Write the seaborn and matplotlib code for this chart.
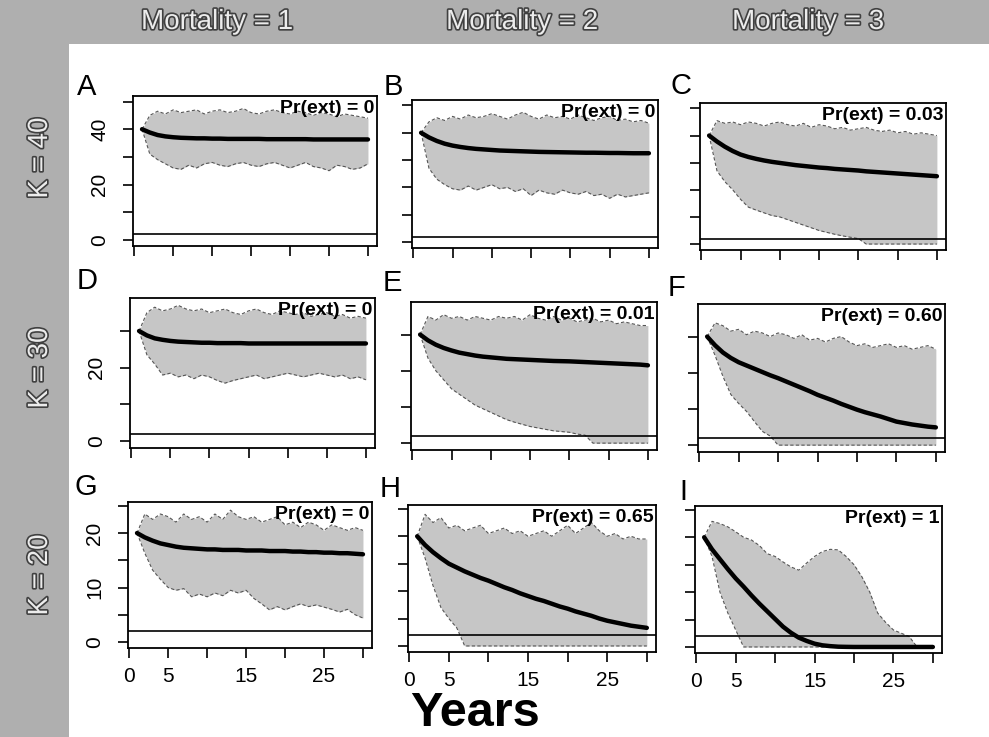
import matplotlib
matplotlib.use("Agg")
import matplotlib.pyplot as plt
import seaborn as sns
import pandas as pd
from matplotlib.patches import Rectangle
from matplotlib import patheffects as pe

# ---------------- data ----------------
years = list(range(1, 31))
mortality_labels = ["Mortality = 1", "Mortality = 2", "Mortality = 3"]
k_labels = ["K = 40", "K = 30", "K = 20"]
panel_letters = ["A", "B", "C", "D", "E", "F", "G", "H", "I"]
pr_ext = ["0", "0", "0.03", "0", "0.01", "0.60", "0", "0.65", "1"]
threshold = 2
x_ticks = [0, 5, 10, 15, 20, 25, 30]
x_tick_labels = ["0", "5", "", "15", "", "25", ""]
row_y_ticks = [[0, 10, 20, 30, 40, 50], [0, 10, 20, 30], [0, 5, 10, 15, 20, 25]]
row_y_labels = [["0", "", "20", "", "40", ""], ["0", "", "20", ""], ["0", "", "10", "", "20", ""]]

# mean trajectories
mean_A = [40, 38.8, 37.9, 37.4, 37.1, 36.9, 36.8, 36.7, 36.7, 36.6, 36.6, 36.5, 36.5, 36.5, 36.5,
          36.5, 36.4, 36.4, 36.4, 36.4, 36.4, 36.4, 36.3, 36.3, 36.3, 36.3, 36.3, 36.3, 36.3, 36.3]
mean_B = [40, 38.3, 37.0, 36.0, 35.3, 34.8, 34.4, 34.1, 33.9, 33.7, 33.5, 33.4, 33.3, 33.2, 33.1,
          33.0, 32.95, 32.9, 32.85, 32.8, 32.75, 32.7, 32.7, 32.65, 32.6, 32.6, 32.55, 32.5, 32.5, 32.5]
mean_C = [40, 37.8, 35.9, 34.3, 33.0, 32.1, 31.4, 30.8, 30.3, 29.9, 29.5, 29.1, 28.8, 28.5, 28.2,
          28.0, 27.7, 27.5, 27.3, 27.1, 26.8, 26.6, 26.4, 26.2, 26.0, 25.8, 25.6, 25.4, 25.2, 25.0]
mean_D = [30, 28.8, 28.0, 27.6, 27.3, 27.1, 27.0, 26.9, 26.8, 26.8, 26.7, 26.7, 26.7, 26.7, 26.6,
          26.6, 26.6, 26.6, 26.6, 26.6, 26.6, 26.6, 26.6, 26.6, 26.6, 26.6, 26.6, 26.6, 26.6, 26.6]
mean_E = [30, 28.4, 27.2, 26.3, 25.6, 25.0, 24.6, 24.2, 23.9, 23.7, 23.5, 23.3, 23.2, 23.1, 23.0,
          22.9, 22.8, 22.7, 22.65, 22.6, 22.5, 22.4, 22.3, 22.2, 22.1, 22.0, 21.9, 21.8, 21.7, 21.5]
mean_F = [30, 27.6, 25.6, 24.1, 22.9, 22.0, 21.1, 20.2, 19.3, 18.5, 17.6, 16.7, 15.8, 14.9, 13.9,
          13.1, 12.3, 11.4, 10.6, 9.8, 9.1, 8.5, 7.9, 7.2, 6.5, 6.1, 5.7, 5.4, 5.1, 4.9]
mean_G = [20, 19.2, 18.6, 18.1, 17.8, 17.5, 17.3, 17.2, 17.1, 17.0, 17.0, 16.9, 16.9, 16.9, 16.8,
          16.8, 16.8, 16.7, 16.7, 16.7, 16.6, 16.6, 16.5, 16.5, 16.4, 16.4, 16.3, 16.3, 16.2, 16.1]
mean_H = [20, 18.4, 17.1, 16.0, 15.0, 14.3, 13.6, 13.0, 12.4, 11.9, 11.3, 10.7, 10.2, 9.6, 9.1,
          8.6, 8.2, 7.7, 7.2, 6.8, 6.3, 5.9, 5.5, 5.0, 4.6, 4.3, 4.0, 3.7, 3.5, 3.3]
mean_I = [20, 17.8, 16.0, 14.2, 12.5, 11.0, 9.4, 7.9, 6.5, 5.1, 3.7, 2.6, 1.7, 1.1, 0.6,
          0.3, 0.15, 0.05, 0.02, 0, 0, 0, 0, 0, 0, 0, 0, 0, 0, 0]

# upper envelope of simulated trajectories
upper_A = [40, 45, 46.5, 45.5, 47, 46, 46.5, 47, 45.5, 46.5, 47, 46, 46.5, 47.5, 46,
           45.5, 46.5, 47, 46, 45.5, 46.5, 46, 45, 46, 45.5, 44.5, 45.5, 45, 44.5, 44]
upper_B = [40, 44, 45.5, 44.5, 46, 45, 46.5, 45.5, 46, 47, 46, 45, 46.5, 47.5, 46,
           45, 46.5, 45.5, 46, 45, 46.5, 45.5, 44.5, 45.5, 46, 44.5, 45, 44, 44.5, 43.5]
upper_C = [40, 45.5, 44.5, 45, 44, 45, 44.5, 43.5, 44.5, 45, 44, 43.5, 44.5, 43, 44,
           43.5, 42.5, 43, 42, 42.5, 43, 42, 41.5, 42, 41, 41.5, 40.5, 41, 40.5, 40]
upper_D = [30, 35, 36.5, 35.5, 36, 37, 36, 35.5, 36, 35, 35.5, 36, 35, 34.5, 35.5,
           36, 35, 34.5, 35.5, 35, 34.5, 35, 34, 34.5, 35, 34, 34.5, 33.5, 34, 33.5]
upper_E = [30, 35, 34, 35.5, 34.5, 35, 34, 35, 34.5, 34, 35, 34.5, 35, 34, 35.5,
           34.5, 34, 35, 34, 34.5, 33.5, 34, 34.5, 33.5, 34, 33, 33.5, 33, 32.5, 32.5]
upper_F = [30, 33.8, 33, 31.5, 32, 30.5, 31.5, 31, 30, 31, 30.5, 29.5, 30.5, 29, 29.5,
           28.5, 29.5, 30, 28.5, 27.5, 28, 27, 27.5, 28, 27, 27.5, 26.5, 27, 27.5, 26.5]
upper_G = [20, 23.5, 22.5, 23.5, 23, 22, 23.5, 22.5, 23, 22, 23.5, 22.5, 24.2, 23, 22.5,
           23, 22, 22.5, 23, 21.5, 22, 21, 22, 21.5, 20.5, 21.5, 21, 20.5, 21, 20.5]
upper_H = [20, 24, 22.5, 23.4, 21.5, 22, 21, 21.5, 22, 20.5, 21, 21.5, 20.5, 21, 20,
           20.5, 21, 20, 21, 22, 20.5, 21.5, 22.5, 21, 20, 20.5, 19.5, 20, 19.5, 19.5]
upper_I = [20, 22.9, 22.5, 21.9, 21, 20, 19.5, 18.5, 17, 16.5, 15.5, 14.6, 14, 15.3, 16.5,
           17.4, 17.8, 17.7, 16.5, 15, 12.8, 10, 6.2, 4.5, 3.1, 2.5, 1.9, 0, 0, 0]

# lower envelope of simulated trajectories
lower_A = [40, 31, 29, 27.5, 26, 25.5, 27, 26, 27.5, 28, 27, 26.5, 27.5, 28, 27,
           26.5, 27.5, 28, 27, 26, 27, 28, 26.5, 26, 25, 27, 26.5, 25.5, 26, 27.5]
lower_B = [40, 27, 23, 21, 19.5, 19, 20.5, 19, 20, 21, 19.5, 20, 18.5, 19.5, 17,
           19, 18, 17.5, 19, 18, 17.5, 18.5, 17, 17.5, 16, 17.5, 16.5, 17, 17.5, 18]
lower_C = [40, 27, 23, 20, 16.5, 13.6, 12.5, 11.5, 10.5, 10, 9, 8, 7, 6, 5,
           4.3, 3.6, 3, 2.5, 2, 0, 0, 0, 0, 0, 0, 0, 0, 0, 0]
lower_D = [30, 23.5, 21, 18, 18.5, 17.5, 18, 17, 18, 17.5, 16.5, 15.8, 16.5, 17, 17.5,
           18, 17, 17.5, 18, 18.5, 18, 17.5, 18, 18.5, 18, 17.5, 18, 17, 17.5, 16.7]
lower_E = [30, 23.5, 20, 17.5, 15, 13.5, 12, 10.5, 9.5, 8.5, 7.5, 6.5, 5.8, 5.2, 4.6,
           4.2, 3.8, 3.4, 3.2, 3.0, 2.5, 2.2, 0, 0, 0, 0, 0, 0, 0, 0]
lower_F = [30, 24.8, 19, 14, 11.5, 9.3, 6.5, 3.8, 2.5, 0, 0, 0, 0, 0, 0,
           0, 0, 0, 0, 0, 0, 0, 0, 0, 0, 0, 0, 0, 0, 0]
lower_G = [20, 16.3, 13.2, 11.5, 10, 9.5, 9.8, 8.3, 8.8, 8.3, 9, 8.5, 9.5, 9, 9.5,
           8, 7, 5.9, 6.5, 5.9, 6.5, 7, 6.5, 6.8, 6.4, 6, 5.5, 6, 5, 4.4]
lower_H = [20, 16, 11, 7, 5, 3.3, 0, 0, 0, 0, 0, 0, 0, 0, 0,
           0, 0, 0, 0, 0, 0, 0, 0, 0, 0, 0, 0, 0, 0, 0]
lower_I = [20, 16.5, 10, 6.2, 3.1, 0, 0, 0, 0, 0, 0, 0, 0, 0, 0,
           0, 0, 0, 0, 0, 0, 0, 0, 0, 0, 0, 0, 0, 0, 0]

means = [mean_A, mean_B, mean_C, mean_D, mean_E, mean_F, mean_G, mean_H, mean_I]
uppers = [upper_A, upper_B, upper_C, upper_D, upper_E, upper_F, upper_G, upper_H, upper_I]
lowers = [lower_A, lower_B, lower_C, lower_D, lower_E, lower_F, lower_G, lower_H, lower_I]

# ---------------- layout (pixel boxes: left, top, right, bottom) ----------------
W, H = 989, 737
boxes = [(133, 96, 377, 246), (412, 100, 658, 248), (700, 103, 946, 250),
         (130, 298, 375, 448), (411, 302, 657, 450), (698, 304, 945, 452),
         (128, 502, 372, 648), (408, 505, 656, 652), (695, 506, 942, 653)]
letter_pos = [(77, 95), (384, 95), (671, 94), (77, 289), (383, 291), (668, 296),
              (75, 495), (380, 497), (679, 500)]
row_ylims = [(-2.2, 52), (-1.9, 39.0), (-1.1, 25.7)]

sns.set_theme(style="ticks")
plt.rcParams["font.family"] = ["Liberation Sans", "DejaVu Sans"]

fig = plt.figure(figsize=(W / 100, H / 100), dpi=100)
fig.patch.set_facecolor("white")

strip_color = "#afafaf"
fig.patches.append(Rectangle((0, 1 - 44 / H), 1, 44 / H, transform=fig.transFigure,
                             facecolor=strip_color, edgecolor="none", zorder=0))
fig.patches.append(Rectangle((0, 0), 69 / W, 1, transform=fig.transFigure,
                             facecolor=strip_color, edgecolor="none", zorder=0))

outline = [pe.withStroke(linewidth=2.4, foreground="#404040")]
narrow = ["Liberation Sans Narrow", "Liberation Sans", "DejaVu Sans"]
for lbl, cx in zip(mortality_labels, [217, 522, 808]):
    fig.text(cx / W, 1 - 29 / H, lbl, ha="center", va="baseline", fontsize=20,
             family=narrow, color="#ececec", path_effects=outline)
for lbl, cy in zip(k_labels, [158, 368, 575]):
    fig.text(40 / W, 1 - cy / H, lbl, ha="center", va="center", rotation=90, fontsize=20,
             family=narrow, color="#ececec", path_effects=outline)

for i in range(9):
    r, c = divmod(i, 3)
    x0, y0, x1, y1 = boxes[i]
    ax = fig.add_axes([x0 / W, 1 - y1 / H, (x1 - x0) / W, (y1 - y0) / H])
    ax.set_facecolor("white")

    ax.fill_between(years, lowers[i], uppers[i], color="#c6c6c6", lw=0, zorder=1)
    ax.plot(years, uppers[i], color="#555555", lw=0.8, ls=(0, (3, 2)), zorder=2)
    ax.plot(years, lowers[i], color="#555555", lw=0.8, ls=(0, (3, 2)), zorder=2)
    ax.axhline(threshold, color="black", lw=1.2, zorder=3)

    df = pd.DataFrame({"Year": years, "N": means[i]})
    sns.lineplot(data=df, x="Year", y="N", ax=ax, color="black", lw=3.2, zorder=4)

    ax.set_xlim(-0.16, 31.16)
    ax.set_ylim(*row_ylims[r])
    ax.set_xlabel("")
    ax.set_ylabel("")
    ax.set_xticks(x_ticks)
    ax.set_yticks(row_y_ticks[r])
    if r == 2:
        ax.set_xticklabels(x_tick_labels)
    else:
        ax.set_xticklabels([])
    if c == 0:
        ax.set_yticklabels(row_y_labels[r], rotation=90, va="center")
    else:
        ax.set_yticklabels([])
    ax.tick_params(axis="both", direction="out", length=7, width=1.2, color="black",
                   labelsize=15, labelcolor="black")
    ax.tick_params(axis="x", pad=7)
    ax.tick_params(axis="y", pad=10)
    for sp in ax.spines.values():
        sp.set_visible(True)
        sp.set_color("black")
        sp.set_linewidth(1.3)
    ax.grid(False)

    ax.text(0.99, 0.975, f"Pr(ext) = {pr_ext[i]}", transform=ax.transAxes, ha="right",
            va="top", fontsize=14, fontweight="bold", color="black", zorder=5)

    lx, ly = letter_pos[i]
    fig.text(lx / W, 1 - ly / H, panel_letters[i], ha="left", va="baseline",
             fontsize=21, color="black")

fig.text(475 / W, 1 - 736 / H, "Years", ha="center", va="bottom", fontsize=35,
         fontweight="bold", color="black")

fig.savefig("out.png", dpi=100, facecolor="white")
